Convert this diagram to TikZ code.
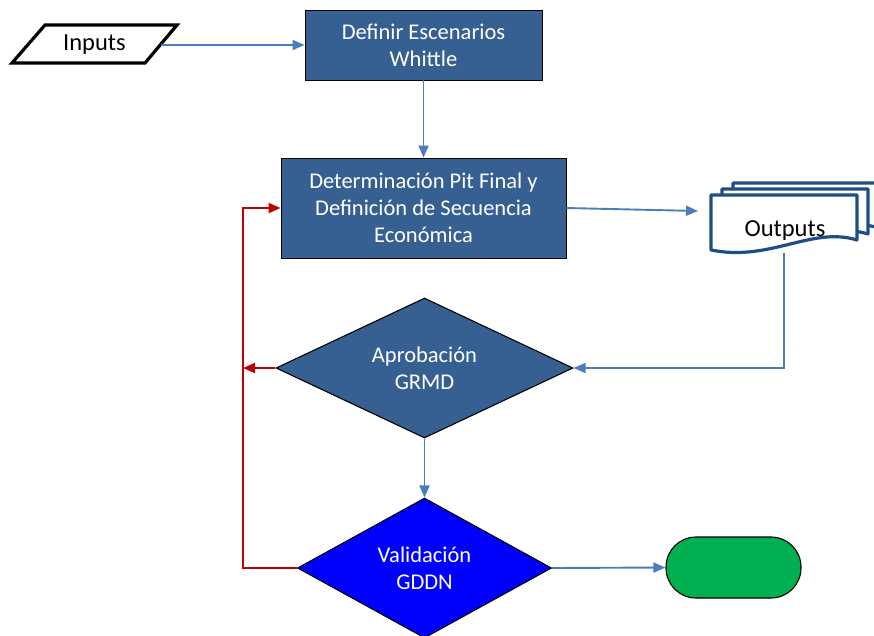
\documentclass[tikz,border=0pt]{standalone}
\usepackage{fontspec}
\setmainfont{Carlito}
\usetikzlibrary{shapes.geometric,arrows.meta}
\definecolor{boxblue}{HTML}{376092}
\definecolor{linkblue}{HTML}{4A7EBB}
\definecolor{backred}{HTML}{C00000}
\definecolor{docblue}{HTML}{1F4E84}
\definecolor{endgreen}{HTML}{00B050}
\definecolor{vivid}{HTML}{0000FF}
\begin{document}
\begin{tikzpicture}[x=1pt,y=-1pt,
  procbox/.style={draw=black, line width=0.9pt, fill=boxblue, text=white,
    font=\fontsize{22.5}{27}\selectfont, align=center, inner sep=0pt},
  decision/.style={diamond, draw=black, line width=1.1pt, text=white,
    font=\fontsize{22.5}{27}\selectfont, align=center, inner sep=0pt, aspect=2},
  flow/.style={draw=linkblue, line width=1.9pt, -{Triangle[length=12pt,width=10pt]}},
  backflow/.style={draw=backred, line width=1.9pt, -{Triangle[length=12pt,width=10pt]}},
  doc/.style={draw=docblue, line width=3.2pt, fill=white, line join=round}]
\useasboundingbox (0,0) rectangle (874,635);

% input parallelogram
\draw[line width=3.2pt, line join=miter] (45,25) -- (177,25) -- (145,63) -- (12,63) -- cycle;
\node[font=\fontsize{24.5}{28}\selectfont, minimum width=133pt, inner sep=0pt] (inp) at (94.5,45) {Inputs};

% process boxes
\node[procbox, minimum width=237pt, minimum height=70pt] (esc) at (423.5,45) {Definir Escenarios\\Whittle};
\node[procbox, minimum width=285pt, minimum height=100pt] (pit) at (423.5,208) {Determinación Pit Final y\\Definición de Secuencia\\Económica};

% stacked output documents
\foreach \dx/\dy in {22/-12, 11/-6, 0/0}{
  \draw[doc, shift={(\dx,\dy)}] (711,195) -- (857,195) -- (857,240)
    .. controls (812,226) and (770,262) .. (711,250) -- cycle;
}
\node[font=\fontsize{24.5}{28}\selectfont, inner sep=0pt] (out) at (785,231) {Outputs};
\coordinate (docin) at (698,211);
\coordinate (docout) at (784,253);

% decisions
\node[decision, fill=boxblue, minimum width=297pt, minimum height=140pt] (grmd) at (424.5,368) {Aprobación\\GRMD};
\node[decision, fill=vivid, minimum width=254pt, minimum height=140pt] (val) at (424.5,568) {Validación\\GDDN};

% terminator
\node[draw=black, line width=1.1pt, fill=endgreen, minimum width=135pt, minimum height=61pt,
      rounded corners=30pt, inner sep=0pt] (fin) at (733.5,567.5) {};

% forward connectors
\draw[flow] (inp.east) -- (inp.east -| esc.west);
\draw[flow] (esc.south) -- (pit.north);
\draw[flow] (pit.east) -- (docin);
\draw[flow] (docout) |- (grmd.east);
\draw[flow] (grmd.south) -- (val.north);
\draw[flow] (val.east) -- (fin.west);

% return loop
\coordinate (loopx) at (243,368);
\draw[backflow] (val.west) -- (val.west -| loopx) |- (pit.west);
\draw[backflow] (grmd.west) -- (loopx);
\end{tikzpicture}
\end{document}
